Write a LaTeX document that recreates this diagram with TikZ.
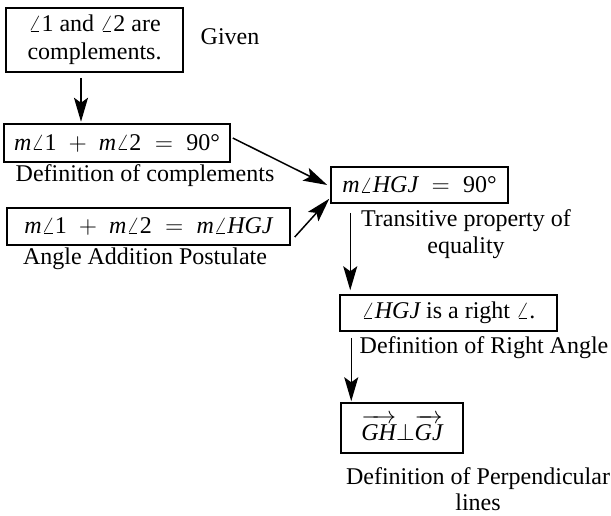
\documentclass[tikz,border=0pt]{standalone}
\usepackage{fontspec}
\setmainfont{Liberation Serif}
\usetikzlibrary{arrows.meta}
\newcommand{\iv}[1]{\mbox{\itshape #1}}
\newcommand{\tv}[1]{\mbox{#1}}
\newcommand{\ang}{$\angle$}
\newcommand{\ray}[1]{\overrightarrow{\iv{#1}\rule{0pt}{9.5pt}}}

\begin{document}
\begin{tikzpicture}[x=0.5pt,y=-0.5pt,line cap=butt,line join=miter,
    every node/.style={font=\fontsize{12}{13.5}\selectfont,inner sep=0pt},
    stepbox/.style={draw,line width=0.75pt,align=center},
    reason/.style={align=center},
    arr/.style={line width=0.75pt,-{Stealth[length=12pt,width=7pt,inset=2.5pt]}}]
  \useasboundingbox (0,0) rectangle (611,515);
  % statements
  \node[stepbox,minimum width=88.5pt,minimum height=32pt,font=\fontsize{12}{14}\selectfont] (given) at (94.5,40)
    {\ang1 and \ang2 are\\complements.};
  \node[stepbox,minimum width=113pt,minimum height=19pt] (sum) at (117,143)
    {$\iv{m}\angle\tv{1} \;+\; \iv{m}\angle\tv{2} \;=\; \tv{90°}$};
  \node[stepbox,minimum width=141.5pt,minimum height=18.5pt] (add) at (148.5,226.5)
    {$\iv{m}\angle\tv{1} \;+\; \iv{m}\angle\tv{2} \;=\; \iv{m}\angle\iv{HGJ}$};
  \node[stepbox,minimum width=88.5pt,minimum height=18pt] (hgj) at (419.5,185)
    {$\iv{m}\angle\iv{HGJ} \;=\; \tv{90°}$};
  \node[stepbox,minimum width=108.5pt,minimum height=18pt] (right) at (448.5,313)
    {\ang\iv{HGJ} is a right \ang.};
  \node[stepbox,minimum width=61pt,minimum height=25pt] (perp) at (402,428)
    {$\ray{GH}{\perp}\ray{GJ}$};
  % reasons
  \node[reason] (r1) at (230,37) {Given};
  \node[reason] (r2) at (145,176) {Definition of complements};
  \node[reason] (r3) at (145,259) {Angle Addition Postulate};
  \node[reason] (r4) at (466,234) {Transitive property of\\equality};
  \node[reason] (r5) at (484,348) {Definition of Right Angle};
  \node[reason,font=\fontsize{12}{13}\selectfont] (r6) at (478,489) {Definition of Perpendicular\\lines};
  % arrows
  \draw[arr] ([xshift=-6.75pt,yshift=-2.5pt]given.south) -- ([xshift=-18pt,yshift=0.75pt]sum.north);
  \draw[arr] ([xshift=1pt,yshift=2.5pt]sum.east) -- ([xshift=-1.5pt]hgj.west);
  \draw[arr] ([xshift=2pt,yshift=-5.25pt]add.east) -- ([xshift=-0.5pt,yshift=2.5pt]hgj.south west);
  \draw[arr] ([xshift=10pt,yshift=-4.5pt]hgj.south west) -- ([xshift=5.5pt,yshift=2pt]right.north west);
  \draw[arr] ([xshift=6pt,yshift=-3pt]right.south west) -- ([xshift=5.5pt,yshift=0.5pt]perp.north west);
\end{tikzpicture}
\end{document}
